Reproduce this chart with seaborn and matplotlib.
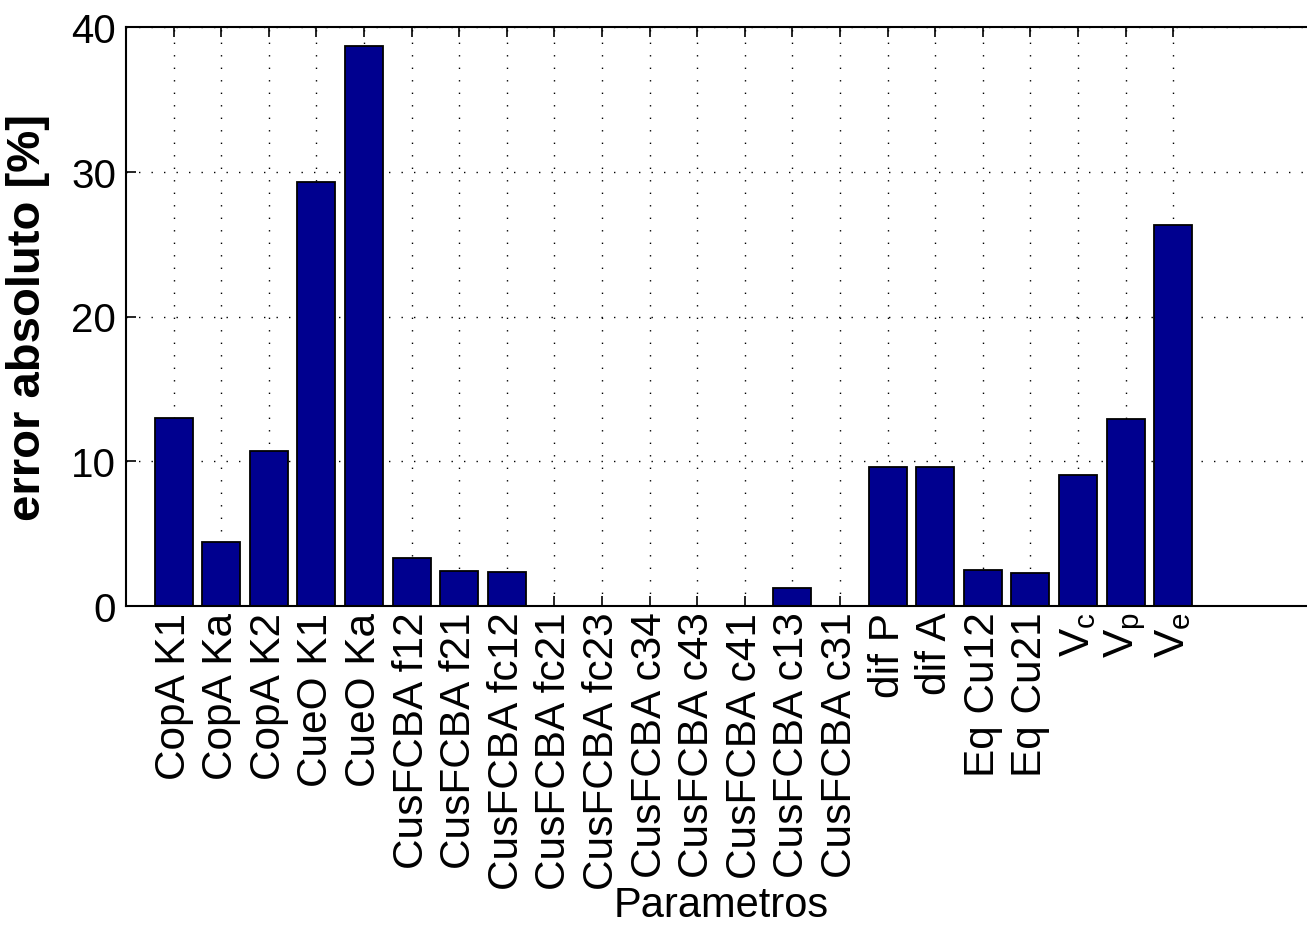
import matplotlib
matplotlib.use("Agg")
import matplotlib.pyplot as plt
import seaborn as sns
import pandas as pd

categories = ["CopA K1", "CopA Ka", "CopA K2", "CueO K1", "CueO Ka",
              "CusFCBA f12", "CusFCBA f21", "CusFCBA fc12", "CusFCBA fc21",
              "CusFCBA fc23", "CusFCBA c34", "CusFCBA c43", "CusFCBA c41",
              "CusFCBA c13", "CusFCBA c31", "dif P", "dif A", "Eq Cu12",
              "Eq Cu21", r"V$_{\mathregular{c}}$", r"V$_{\mathregular{p}}$",
              r"V$_{\mathregular{e}}$"]
values = [13.0, 4.44, 10.73, 29.27, 38.67,
          3.32, 2.44, 2.35, 0.0,
          0.0, 0.0, 0.0, 0.0,
          1.27, 0.0, 9.63, 9.63, 2.49,
          2.26, 9.05, 12.92,
          26.3]
yticks = [0, 10, 20, 30, 40]

sns.set_style("white")
plt.rcParams["font.family"] = ["Liberation Sans", "DejaVu Sans"]
plt.rcParams["mathtext.fontset"] = "custom"
plt.rcParams["mathtext.rm"] = "Liberation Sans"
plt.rcParams["mathtext.it"] = "Liberation Sans"
plt.rcParams["text.color"] = "black"
plt.rcParams["axes.labelcolor"] = "black"
plt.rcParams["xtick.color"] = "black"
plt.rcParams["ytick.color"] = "black"

fig = plt.figure(figsize=(13.07, 9.28), dpi=100)
ax = fig.add_axes([126 / 1307, (928 - 607) / 928, 1181 / 1307, 579 / 928])

df = pd.DataFrame({"param": categories, "err": values})
sns.barplot(data=df, x="param", y="err", order=categories, color="#00008F",
            saturation=1, edgecolor="black", linewidth=1.3, width=0.8, ax=ax)

ax.set_xlim(-1, 23.81)
ax.set_ylim(0, 40)
ax.set_yticks(yticks)
ax.set_yticklabels([str(t) for t in yticks])
ax.set_xticks(range(len(categories)))
ax.set_xticklabels(categories, rotation=90, ha="center", va="top")

ax.set_axisbelow(True)
ax.grid(True, color="black", linestyle=(0, (1, 8)), linewidth=1.0)

for s in ["left", "top", "bottom"]:
    ax.spines[s].set_visible(True)
    ax.spines[s].set_color("black")
    ax.spines[s].set_linewidth(1.5)
ax.spines["right"].set_visible(False)

ax.tick_params(axis="x", direction="in", length=7, width=1.2, top=True,
               bottom=True, labelsize=30.5, pad=4, colors="black",
               labelcolor="black")
ax.tick_params(axis="y", direction="in", length=7, width=1.2, left=True,
               right=False, labelsize=29, pad=7, colors="black",
               labelcolor="black")

ax.set_xlabel("Parametros", fontsize=30, color="black")
ax.set_ylabel("error absoluto [%]", fontsize=34, fontweight="bold",
              color="black")
ax.xaxis.set_label_coords(0.504, -0.482)
ax.yaxis.set_label_coords(-0.064, 0.5)

fig.savefig("out.png", dpi=100, facecolor="white")
